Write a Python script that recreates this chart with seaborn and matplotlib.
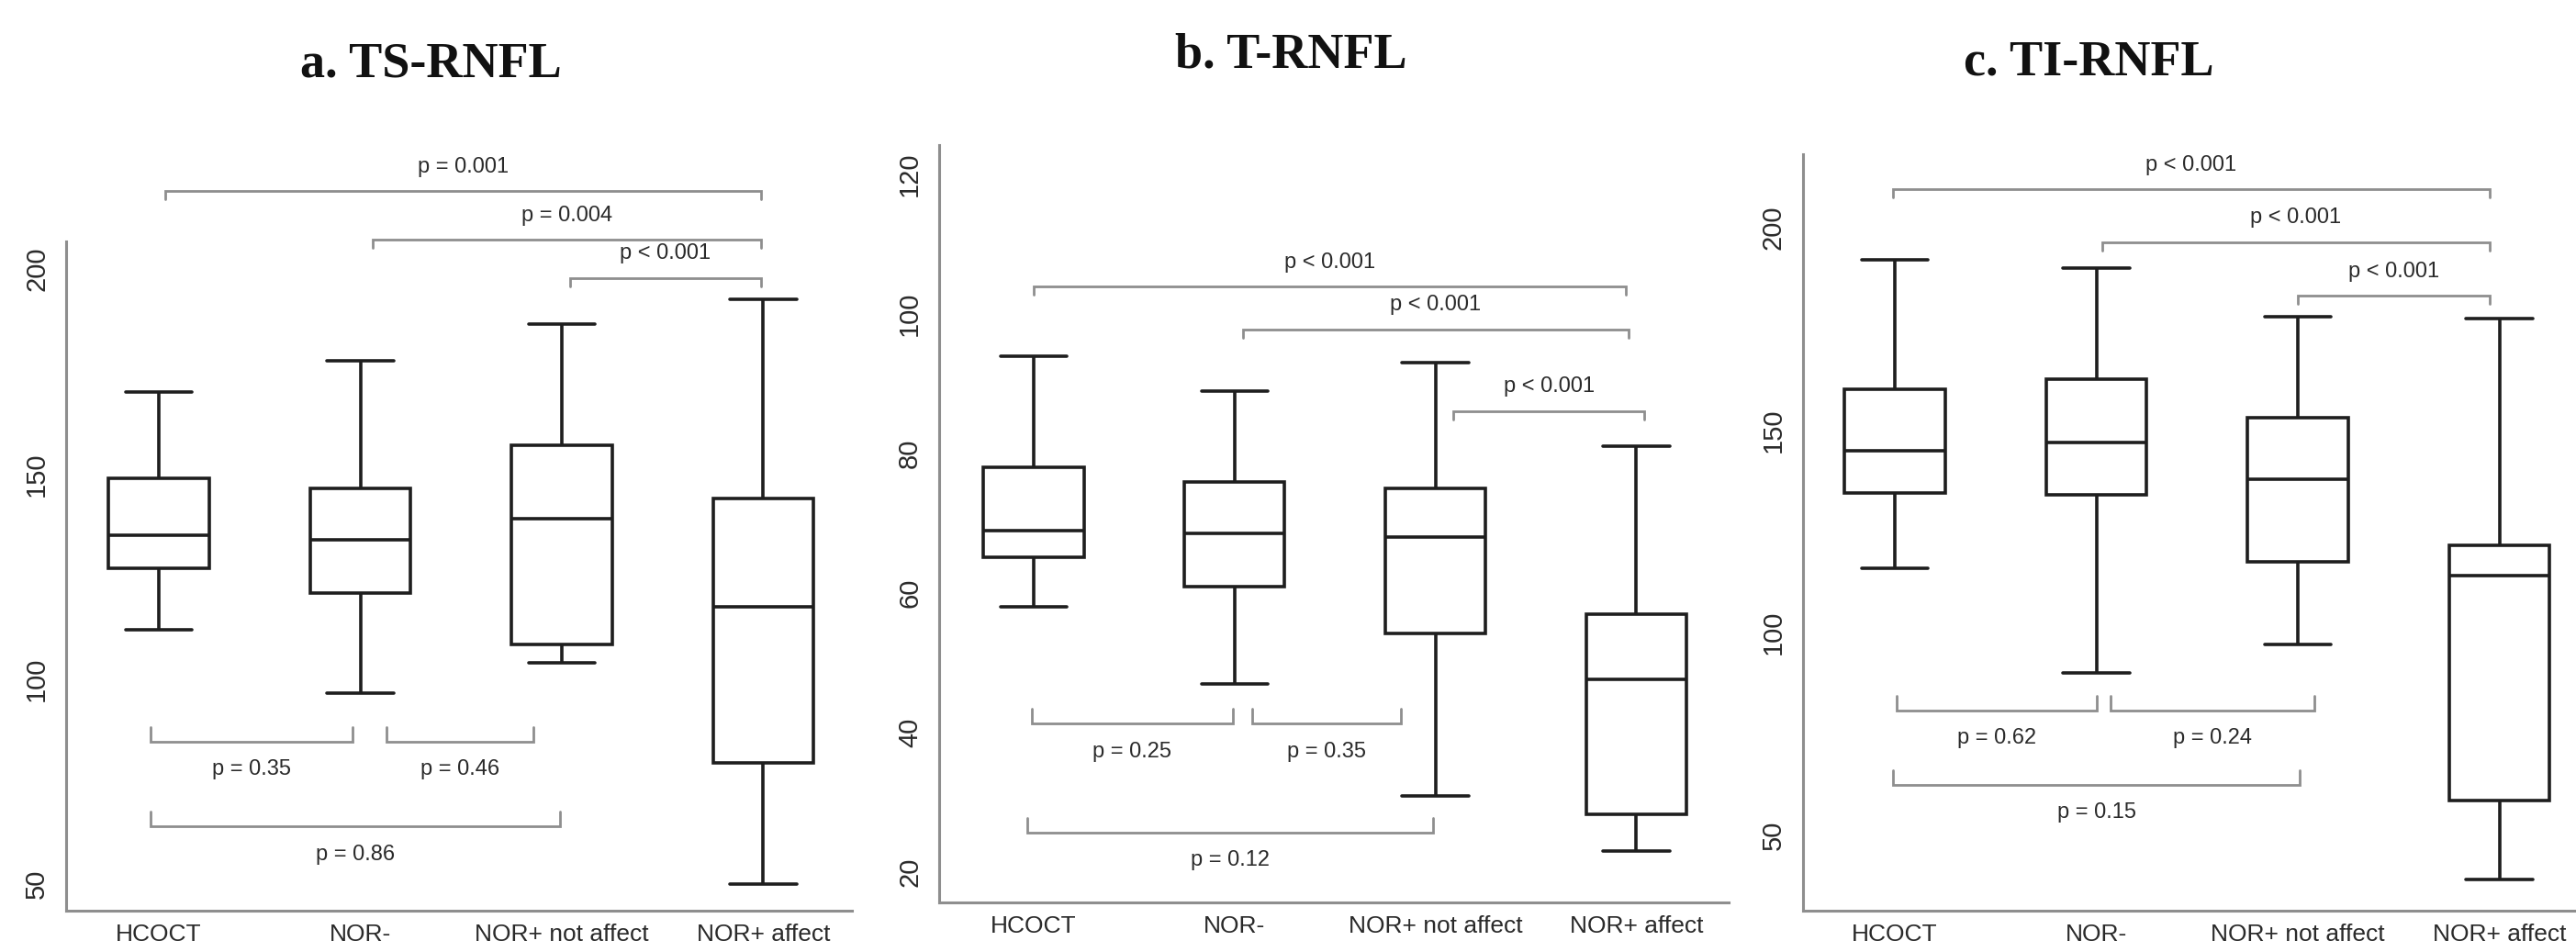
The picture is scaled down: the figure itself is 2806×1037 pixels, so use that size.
import numpy as np
import pandas as pd
import matplotlib
matplotlib.use("Agg")
import matplotlib.pyplot as plt
import seaborn as sns

groups = ["HCOCT", "NOR-", "NOR+ not affect", "NOR+ affect"]
titles = ["a. TS-RNFL", "b. T-RNFL", "c. TI-RNFL"]

# min, Q1, median, Q3, max per group
ts_rnfl = [[112, 127, 135, 149, 170],
           [96.5, 121, 134, 146.5, 177.5],
           [104, 108.5, 139, 157, 186.5],
           [50, 79.5, 117.5, 144, 192.5]]
t_rnfl = [[58, 65.2, 69, 78, 94],
          [47, 61, 68.6, 76, 89],
          [31, 54.2, 68, 75, 93],
          [23, 28.3, 47.7, 57, 81]]
ti_rnfl = [[116, 134.5, 145, 160, 192],
           [90, 134, 147, 162.5, 190],
           [97, 117.5, 138, 153, 178],
           [39, 58.5, 114, 121.5, 177.5]]

ts_ticks = [50, 100, 150, 200]
t_ticks = [20, 40, 60, 80, 100, 120]
ti_ticks = [50, 100, 150, 200]

# brackets: (from, to, height, label, side)
ts_brackets = [(0.03, 2.99, 218.9, "p = 0.001", "top"),
               (1.06, 2.99, 207.1, "p = 0.004", "top"),
               (2.04, 2.99, 197.8, "p < 0.001", "top"),
               (-0.04, 0.96, 84.8, "p = 0.35", "bottom"),
               (1.13, 1.86, 84.8, "p = 0.46", "bottom"),
               (-0.04, 1.99, 64.1, "p = 0.86", "bottom")]
t_brackets = [(0.0, 2.95, 103.9, "p < 0.001", "top"),
              (1.04, 2.96, 97.8, "p < 0.001", "top"),
              (2.09, 3.04, 86.1, "p < 0.001", "top"),
              (-0.01, 0.99, 41.3, "p = 0.25", "bottom"),
              (1.09, 1.83, 41.3, "p = 0.35", "bottom"),
              (-0.03, 1.99, 25.7, "p = 0.12", "bottom")]
ti_brackets = [(-0.01, 2.95, 209.4, "p < 0.001", "top"),
               (1.03, 2.95, 196.4, "p < 0.001", "top"),
               (2.0, 2.95, 183.2, "p < 0.001", "top"),
               (0.01, 1.0, 80.9, "p = 0.62", "bottom"),
               (1.07, 2.08, 80.9, "p = 0.24", "bottom"),
               (-0.01, 2.01, 62.5, "p = 0.15", "bottom")]

sns.set_style("white")
plt.rcParams["font.family"] = ["Liberation Sans", "DejaVu Sans"]

panels = [
    (ts_rnfl, ts_ticks, ts_brackets, (43.5, 206.7), (-0.46, 3.44),
     [0.0257, 0.0434, 0.3050, 0.7030], (469, 71)),
    (t_rnfl, t_ticks, t_brackets, (15.7, 124.2), (-0.47, 3.46),
     [0.3646, 0.0521, 0.3065, 0.7955], (1406, 60)),
    (ti_rnfl, ti_ticks, ti_brackets, (31.4, 218.1), (-0.456, 3.38),
     [0.6999, 0.0434, 0.3001, 0.7946], (2275, 69)),
]

W, H = 2806, 1037
fig = plt.figure(figsize=(W / 100, H / 100), dpi=100)
spine_col = "#8e8e8e"
text_col = "#2a2a2a"

for (stats, ticks, brackets, ylim, xlim, pos, tpos), title in zip(panels, titles):
    ax = fig.add_axes(pos)
    df = pd.DataFrame([(g, v) for g, s in zip(groups, stats) for v in s],
                      columns=["group", "value"])
    sns.boxplot(data=df, x="group", y="value", ax=ax, order=groups,
                color="white", linecolor="#1e1e1e", linewidth=2.6,
                width=0.5, whis=(0, 100), fliersize=0, capwidths=0.33)
    ax.set_ylim(*ylim)
    ax.set_xlim(*xlim)
    ax.set_yticks(ticks)
    ax.set_xlabel("")
    ax.set_ylabel("")
    for side in ["top", "right"]:
        ax.spines[side].set_visible(False)
    for side in ["left", "bottom"]:
        ax.spines[side].set_color(spine_col)
        ax.spines[side].set_linewidth(2.2)
    ax.tick_params(axis="y", length=5, width=1.5, color=spine_col, pad=8,
                   labelsize=21, labelcolor=text_col, labelrotation=90)
    for lbl in ax.get_yticklabels():
        lbl.set_va("center")
    ax.tick_params(axis="x", length=0, pad=10, labelcolor=text_col,
                   labelsize=19)

    # bracket tick sizes in data units (from pixel sizes)
    ax_h = pos[3] * H
    per_px = (ylim[1] - ylim[0]) / ax_h
    for x1, x2, y, lab, side in brackets:
        if side == "top":
            d = -9 * per_px
            off = 19
        else:
            d = 16 * per_px
            off = -22
        ax.plot([x1, x1, x2, x2], [y + d, y, y, y + d], color=spine_col,
                lw=2.0, clip_on=False, solid_joinstyle="miter")
        ax.annotate(lab, xy=((x1 + x2) / 2, y), xytext=(0, off),
                    textcoords="offset points", ha="center", va="center",
                    fontsize=17, color=text_col, annotation_clip=False)

    fig.text(tpos[0] / W, 1 - tpos[1] / H, title, ha="center", va="center",
             fontsize=39, fontweight="bold", family="Liberation Serif",
             color="#111111")

fig.savefig("out.png", dpi=100)
